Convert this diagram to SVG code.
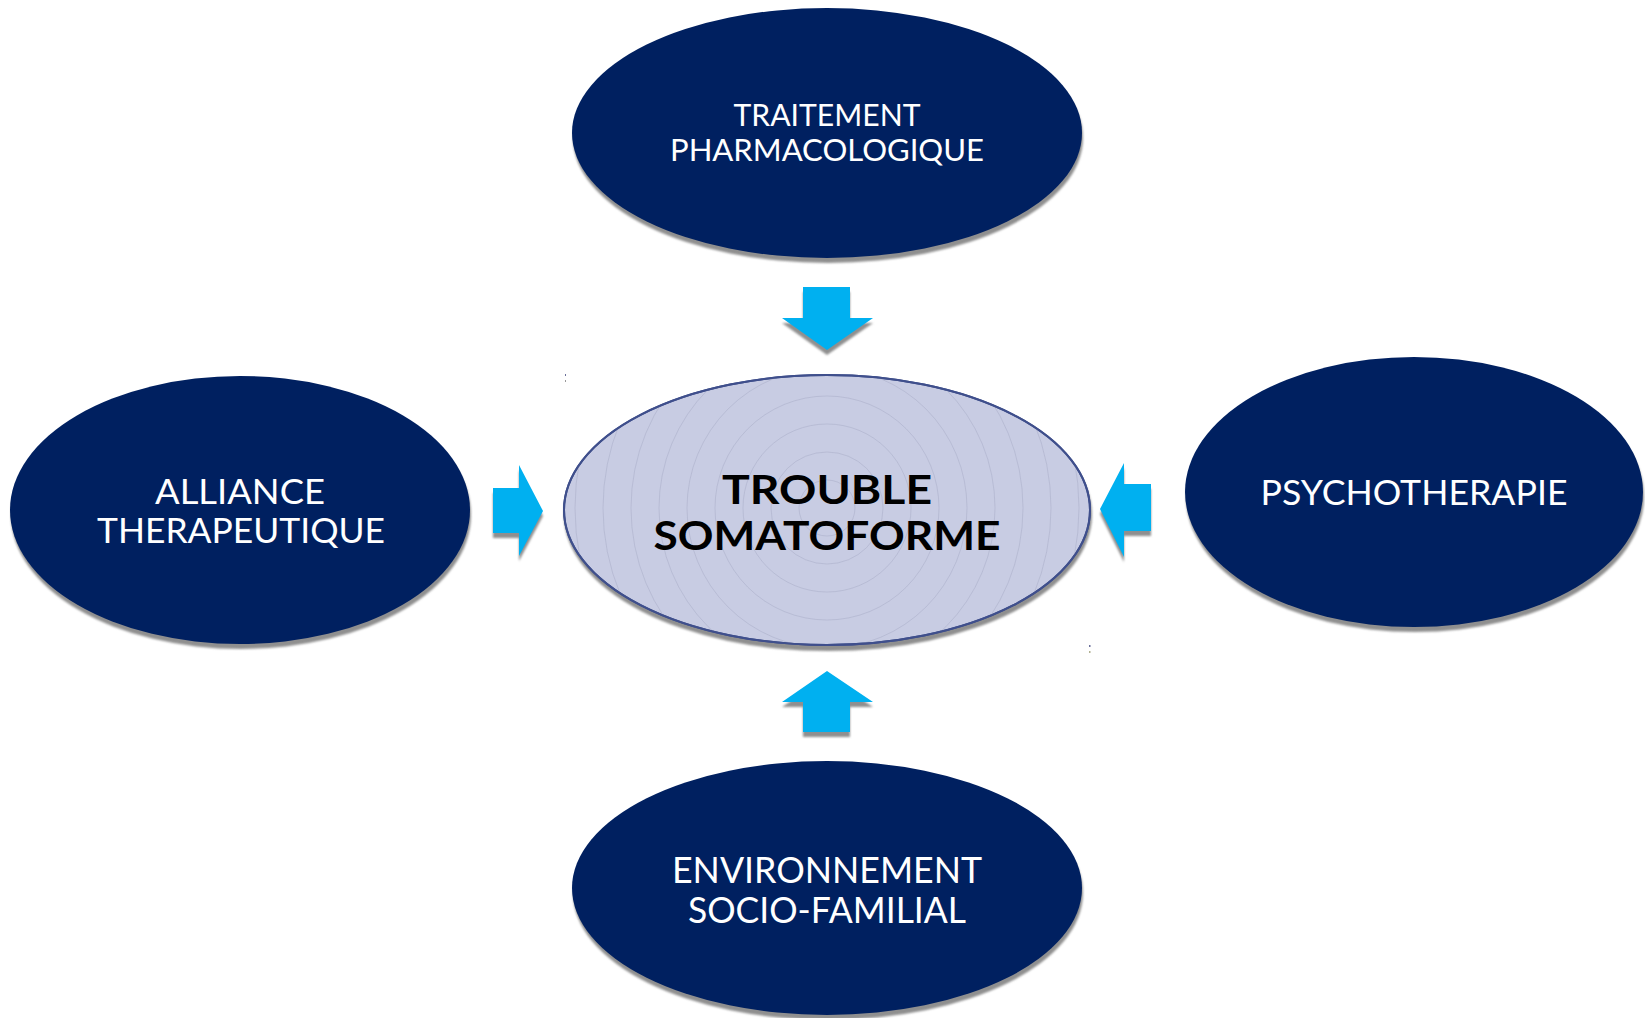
<svg xmlns="http://www.w3.org/2000/svg" width="1645" height="1018" viewBox="0 0 1645 1018">
  <defs>
    <style>
      .node { fill: #002060; }
      .shadow { fill: #8f8f8f; }
      .core { fill: #c8cce3; stroke: #3f4f8c; stroke-width: 2; }
      .ring { fill: none; stroke: #a7acc6; stroke-width: 0.7; opacity: 0.7; }
      .arrow { fill: #00b0f0; }
      .label { font-family: Lato, "Liberation Sans", sans-serif; fill: #ffffff; text-anchor: middle; }
      .title { font-family: Lato, "Liberation Sans", sans-serif; font-weight: 700; fill: #000000; text-anchor: middle; font-size: 41px; }
    </style>
    <filter id="soft" x="-5%" y="-5%" width="110%" height="115%">
      <feGaussianBlur stdDeviation="0.8"/>
    </filter>
    <clipPath id="coreClip">
      <ellipse cx="827" cy="510" rx="263" ry="135"/>
    </clipPath>
    <!-- block arrow shapes, pointing into the centre -->
    <path id="arrowDown" d="M803,287 H850 V318 H873 L827,350 L782,318 H803 Z"/>
    <path id="arrowUp" d="M827,671 L873,702 H850 V732 H803 V702 H782 Z"/>
    <path id="arrowRight" d="M493,488 H519 V465 L543,511 L519,556 V533 H493 Z"/>
    <path id="arrowLeft" d="M1151,484 H1124 V463 L1100,509 L1124,557 V531 H1151 Z"/>
  </defs>

  <rect width="1645" height="1018" fill="#ffffff"/>

  <!-- connectors: block arrows -->
  <g id="connectors">
    <g class="shadow" transform="translate(0,5)" filter="url(#soft)">
      <use href="#arrowDown"/>
      <use href="#arrowUp"/>
      <use href="#arrowRight"/>
      <use href="#arrowLeft"/>
    </g>
    <g class="arrow">
      <use href="#arrowDown"/>
      <use href="#arrowUp"/>
      <use href="#arrowRight"/>
      <use href="#arrowLeft"/>
    </g>
  </g>

  <g id="node-traitement">
    <ellipse class="shadow" cx="828" cy="138" rx="255" ry="125" filter="url(#soft)"/>
    <ellipse class="node" cx="827" cy="133" rx="255" ry="125"/>
    <text class="label" font-size="31" x="827" y="126" textLength="187" lengthAdjust="spacingAndGlyphs">TRAITEMENT</text>
    <text class="label" font-size="31" x="827" y="161" textLength="314" lengthAdjust="spacingAndGlyphs">PHARMACOLOGIQUE</text>
  </g>

  <g id="node-alliance">
    <ellipse class="shadow" cx="241" cy="515" rx="230" ry="134" filter="url(#soft)"/>
    <ellipse class="node" cx="240" cy="510" rx="230" ry="134"/>
    <text class="label" font-size="35" x="240" y="504" textLength="170" lengthAdjust="spacingAndGlyphs">ALLIANCE</text>
    <text class="label" font-size="35" x="241" y="543" textLength="288" lengthAdjust="spacingAndGlyphs">THERAPEUTIQUE</text>
  </g>

  <g id="node-psychotherapie">
    <ellipse class="shadow" cx="1415" cy="497" rx="229" ry="135" filter="url(#soft)"/>
    <ellipse class="node" cx="1414" cy="492" rx="229" ry="135"/>
    <text class="label" font-size="35" x="1414" y="505" textLength="307" lengthAdjust="spacingAndGlyphs">PSYCHOTHERAPIE</text>
  </g>

  <g id="node-environnement">
    <ellipse class="shadow" cx="828" cy="893" rx="255" ry="127" filter="url(#soft)"/>
    <ellipse class="node" cx="827" cy="888" rx="255" ry="127"/>
    <text class="label" font-size="36" x="827" y="883" textLength="310" lengthAdjust="spacingAndGlyphs">ENVIRONNEMENT</text>
    <text class="label" font-size="36" x="827" y="923" textLength="278" lengthAdjust="spacingAndGlyphs">SOCIO-FAMILIAL</text>
  </g>

  <g id="node-trouble">
    <ellipse class="shadow" cx="828" cy="515" rx="264" ry="136" filter="url(#soft)"/>
    <ellipse class="core" cx="827" cy="510" rx="263" ry="135"/>
    <g clip-path="url(#coreClip)">
      <circle class="ring" cx="827" cy="508" r="28"/>
      <circle class="ring" cx="827" cy="508" r="56"/>
      <circle class="ring" cx="827" cy="508" r="84"/>
      <circle class="ring" cx="827" cy="508" r="112"/>
      <circle class="ring" cx="827" cy="508" r="140"/>
      <circle class="ring" cx="827" cy="508" r="168"/>
      <circle class="ring" cx="827" cy="508" r="196"/>
      <circle class="ring" cx="827" cy="508" r="224"/>
      <circle class="ring" cx="827" cy="508" r="252"/>
    </g>
    <ellipse cx="827" cy="510" rx="263" ry="135" fill="none" stroke="#3f4f8c" stroke-width="2"/>
    <text class="title" x="827" y="504" textLength="210" lengthAdjust="spacingAndGlyphs">TROUBLE</text>
    <text class="title" x="827" y="550" textLength="347" lengthAdjust="spacingAndGlyphs">SOMATOFORME</text>
  </g>

  <!-- small corner handles left on the canvas -->
  <g fill="#6a6f9a">
    <rect x="565" y="374" width="1" height="2"/>
    <rect x="565" y="380" width="1" height="2" fill="#9a9a9a"/>
    <rect x="1089" y="645" width="1.5" height="2"/>
    <rect x="1089" y="651" width="1.5" height="2" fill="#b0b090"/>
  </g>
</svg>
